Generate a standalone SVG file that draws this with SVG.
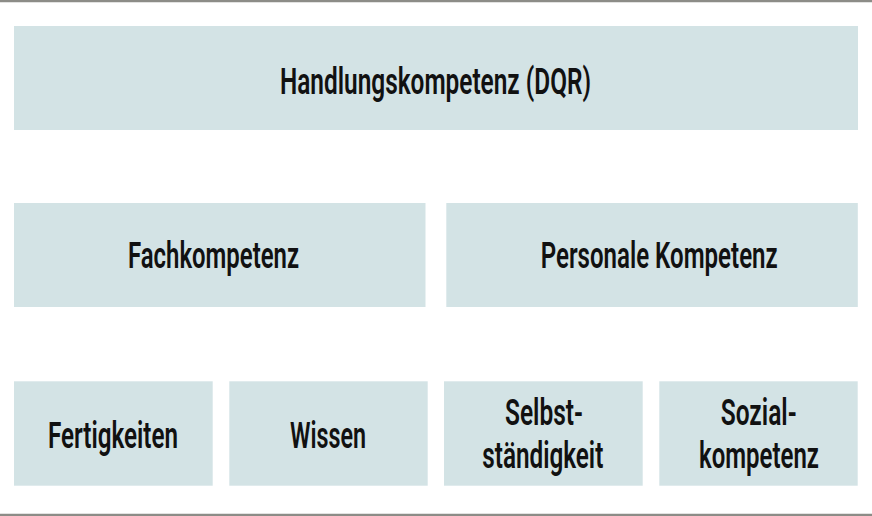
<svg xmlns="http://www.w3.org/2000/svg" width="872" height="516" viewBox="0 0 872 516">
<style>
.box{fill:#d3e3e5}
.t{font-family:Roboto,"Liberation Sans",sans-serif;font-weight:600;font-size:36px;fill:#111}
.rule{stroke:#8c8c87;stroke-width:2.5}
</style>
<rect width="872" height="516" fill="#fff"/>
<g id="rules">
<line class="rule" x1="0" y1="1" x2="872" y2="1"/>
<line class="rule" x1="0" y1="515" x2="872" y2="515"/>
</g>
<g id="connectors"></g>
<g id="dqr">
<rect class="box" x="14" y="26" width="844" height="104"/>
<text class="t" x="280" y="94.3" textLength="311" lengthAdjust="spacingAndGlyphs">Handlungskompetenz (DQR)</text>
</g>
<g id="fach">
<rect class="box" x="14" y="203" width="411.5" height="104"/>
<text class="t" x="128" y="268.3" textLength="171" lengthAdjust="spacingAndGlyphs">Fachkompetenz</text>
</g>
<g id="personal">
<rect class="box" x="446.3" y="203" width="411.5" height="104"/>
<text class="t" x="540.7" y="267.7" textLength="237" lengthAdjust="spacingAndGlyphs">Personale Kompetenz</text>
</g>
<g id="fertigkeiten">
<rect class="box" x="14" y="381.3" width="198.7" height="104.4"/>
<text class="t" x="48" y="447.7" textLength="130" lengthAdjust="spacingAndGlyphs">Fertigkeiten</text>
</g>
<g id="wissen">
<rect class="box" x="229.3" y="381.3" width="198.4" height="104.4"/>
<text class="t" x="290" y="447.7" textLength="76" lengthAdjust="spacingAndGlyphs">Wissen</text>
</g>
<g id="selbst">
<rect class="box" x="444" y="381.3" width="198.7" height="104.4"/>
<text class="t" x="505" y="425" textLength="78" lengthAdjust="spacingAndGlyphs">Selbst-</text>
<text class="t" x="482.3" y="468.3" textLength="121" lengthAdjust="spacingAndGlyphs">ständigkeit</text>
</g>
<g id="sozial">
<rect class="box" x="659.3" y="381.3" width="198.4" height="104.4"/>
<text class="t" x="720.7" y="425" textLength="76" lengthAdjust="spacingAndGlyphs">Sozial-</text>
<text class="t" x="699" y="468.3" textLength="120" lengthAdjust="spacingAndGlyphs">kompetenz</text>
</g>
</svg>
